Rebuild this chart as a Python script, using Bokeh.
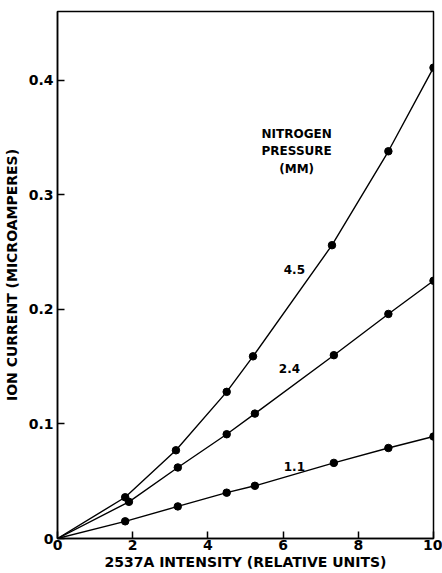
from bokeh.plotting import figure
from bokeh.models import Range1d, FixedTicker
from bokeh.core.properties import value
from bokeh.embed import file_html
from bokeh.resources import INLINE

# Data
intensity_11 = [1.8, 3.2, 4.5, 5.25, 7.35, 8.8, 10.0]
current_11 = [0.015, 0.028, 0.040, 0.046, 0.066, 0.079, 0.089]
intensity_24 = [1.9, 3.2, 4.5, 5.25, 7.35, 8.8, 10.0]
current_24 = [0.032, 0.062, 0.091, 0.109, 0.160, 0.196, 0.225]
intensity_45 = [1.8, 3.15, 4.5, 5.2, 7.3, 8.8, 10.0]
current_45 = [0.036, 0.077, 0.128, 0.159, 0.256, 0.338, 0.411]
origin_x = [0.0]
origin_y = [0.0]

series_labels = ["1.1", "2.4", "4.5"]
label_x = [6.3, 6.17, 6.3]
label_y = [0.063, 0.148, 0.235]

header_lines = ["NITROGEN", "PRESSURE", "(MM)"]
header_x = [6.36, 6.36, 6.36]
header_y = [0.353, 0.338, 0.3225]

x_ticks = [0, 2, 4, 6, 8, 10]
y_ticks = [0, 0.1, 0.2, 0.3, 0.4]
y_tick_labels = ["0", "0.1", "0.2", "0.3", "0.4"]

FONT = "DejaVu Sans"

p = figure(width=442, height=573, output_backend="svg", toolbar_location=None,
           x_range=Range1d(0, 10), y_range=Range1d(0, 0.46),
           min_border_left=57, min_border_right=9, min_border_top=11, min_border_bottom=35)
p.grid.visible = False
p.outline_line_color = "black"
p.outline_line_width = 1.5
p.background_fill_color = "white"
p.border_fill_color = "white"

for ax in (p.xaxis[0], p.yaxis[0]):
    ax.axis_line_width = 1.5
    ax.major_tick_in = 7
    ax.major_tick_out = 0
    ax.minor_tick_in = 0
    ax.minor_tick_out = 0
    ax.major_tick_line_width = 1.5
    ax.major_label_text_font = FONT
    ax.major_label_text_font_style = "bold"
    ax.major_label_text_font_size = "14px"
    ax.axis_label_text_font = FONT
    ax.axis_label_text_font_style = "bold"
    ax.axis_label_text_font_size = "14px"
    ax.major_label_text_color = "black"
    ax.axis_label_text_color = "black"

p.xaxis.ticker = FixedTicker(ticks=x_ticks)
p.yaxis.ticker = FixedTicker(ticks=y_ticks)
p.yaxis.major_label_overrides = {t: l for t, l in zip(y_ticks, y_tick_labels)}
p.xaxis.axis_label = "2537A INTENSITY (RELATIVE UNITS)"
p.yaxis.axis_label = "ION CURRENT (MICROAMPERES)"
p.xaxis.major_label_standoff = 1
p.xaxis.axis_label_standoff = 1
p.yaxis.major_label_standoff = 4
p.yaxis.axis_label_standoff = 6

for xs, ys in ((intensity_11, current_11), (intensity_24, current_24), (intensity_45, current_45)):
    p.line(origin_x + xs, origin_y + ys, line_color="black", line_width=1.4)
    p.scatter(xs, ys, size=7.5, fill_color="black", line_color="black")

p.text(label_x, label_y, text=series_labels, text_font=value(FONT), text_font_style="bold",
       text_font_size="12px", text_align="center", text_baseline="middle", text_color="black")
p.text(header_x, header_y, text=header_lines, text_font=value(FONT), text_font_style="bold",
       text_font_size="12px", text_align="center", text_baseline="middle", text_color="black")

open("out.html", "w").write(file_html(p, INLINE))
